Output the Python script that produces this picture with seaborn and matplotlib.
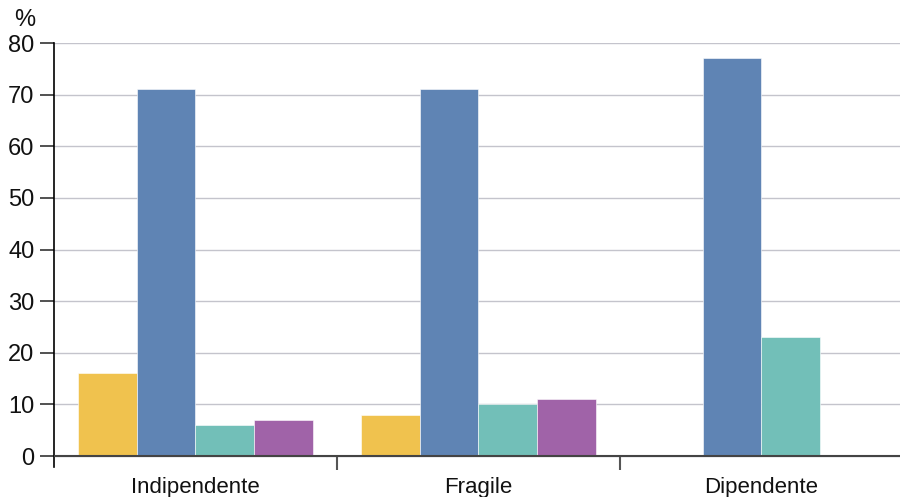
import pandas as pd
import seaborn as sns
import matplotlib.pyplot as plt

categories = ["Indipendente", "Fragile", "Dipendente"]
series = ["Serie 1", "Serie 2", "Serie 3", "Serie 4"]
values = {
    "Serie 1": [16, 8, 0],
    "Serie 2": [71, 71, 77],
    "Serie 3": [6, 10, 23],
    "Serie 4": [7, 11, 0],
}
colors = ["#f0c24e", "#5f84b4", "#72bfb8", "#a063a8"]

rows = []
for s in series:
    for c, v in zip(categories, values[s]):
        rows.append({"categoria": c, "serie": s, "valore": v})
df = pd.DataFrame(rows)

sns.set_style("white")
plt.rcParams['font.family'] = ['Liberation Sans Narrow', 'Liberation Sans', 'DejaVu Sans']
plt.rcParams['font.stretch'] = 'condensed'
plt.rcParams['text.color'] = '#111111'
plt.rcParams['xtick.color'] = '#111111'
plt.rcParams['ytick.color'] = '#111111'

fig = plt.figure(figsize=(9, 4.97), dpi=100, facecolor='white')
ax = fig.add_axes([0.06, 1 - 467 / 497, 0.94, (467 - 43) / 497])

sns.barplot(ax=ax, data=df, x="categoria", y="valore", hue="serie",
            order=categories, hue_order=series, palette=colors,
            width=0.83, saturation=1, legend=False,
            edgecolor="white", linewidth=0.4)

ax.set_ylim(-2.13, 80)
ax.set_xlim(-0.5, 2.49)
ax.set_yticks(range(0, 81, 10))
ax.yaxis.grid(True, color="#c4c4cc", linewidth=1)
ax.set_axisbelow(True)
ax.axhline(0, color="#444444", linewidth=1.5, zorder=3)

for sp in ["top", "right", "bottom"]:
    ax.spines[sp].set_visible(False)
ax.spines["left"].set_color("black")
ax.spines["left"].set_linewidth(1.2)

ax.tick_params(axis="y", which="major", length=10, width=1.2, color="#333333",
               pad=4, labelsize=17, left=True)
ax.tick_params(axis="x", length=0, labelsize=16, pad=7)
ax.vlines([0.5, 1.5], -2.7, 0, color="#555555", linewidth=1.5, clip_on=False)

ax.set_xlabel("")
ax.set_ylabel("")
fig.text(0.016, 0.938, "%", fontsize=17, ha="left", va="bottom")

fig.savefig("out.png", dpi=100, facecolor='white')
